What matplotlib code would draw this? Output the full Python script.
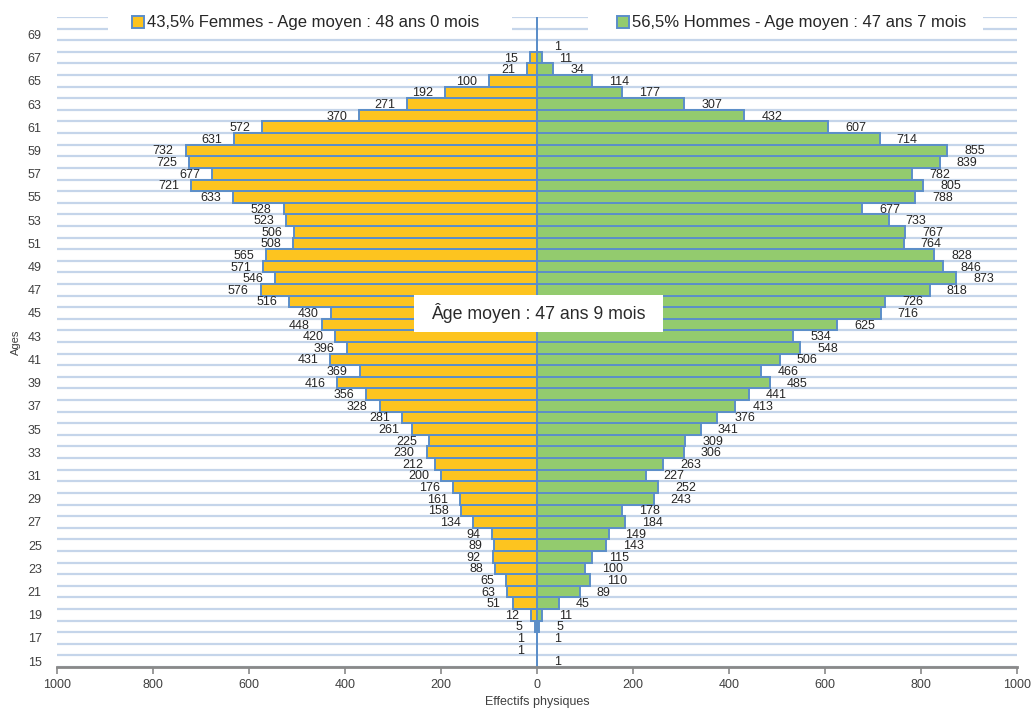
import matplotlib
matplotlib.use('Agg')
import matplotlib.pyplot as plt
from matplotlib.patches import Patch, Rectangle
from matplotlib.ticker import FuncFormatter

plt.rcParams['font.family'] = ['Liberation Sans', 'DejaVu Sans']

ages = list(range(15, 71))
femmes = [0, 1, 1, 5, 12, 51, 63, 65, 88, 92,
          89, 94, 134, 158, 161, 176, 200, 212, 230, 225,
          261, 281, 328, 356, 416, 369, 431, 396, 420, 448,
          430, 516, 576, 546, 571, 565, 508, 506, 523, 528,
          633, 721, 677, 725, 732, 631, 572, 370, 271, 192,
          100, 21, 15, 0, 0, 0]
hommes = [1, 0, 1, 5, 11, 45, 89, 110, 100, 115,
          143, 149, 184, 178, 243, 252, 227, 263, 306, 309,
          341, 376, 413, 441, 485, 466, 506, 548, 534, 625,
          716, 726, 818, 873, 846, 828, 764, 767, 733, 677,
          788, 805, 782, 839, 855, 714, 607, 432, 307, 177,
          114, 34, 11, 1, 0, 0]

label_f = '43,5% Femmes - Age moyen : 48 ans 0 mois'
label_h = '56,5% Hommes - Age moyen : 47 ans 7 mois'
note = 'Âge moyen : 47 ans 9 mois'

col_f = '#fdc41f'
col_h = '#93cb6e'
edge = '#5b8ec9'
grid = '#c5d5ea'
txt = '#404040'

W, H = 1031, 708
fig = plt.figure(figsize=(W / 100, H / 100), dpi=100)
ax = fig.add_axes([57 / W, 1 - 667 / H, 960 / W, 650 / H])

ax.barh(ages, [-v for v in femmes], height=1.0, color=col_f, edgecolor=edge, linewidth=1.4, zorder=3)
ax.barh(ages, hommes, height=1.0, color=col_h, edgecolor=edge, linewidth=1.4, zorder=3)

# data labels
for a, v in zip(ages, femmes):
    if v:
        ax.annotate(str(v), xy=(-v, a), xytext=(-12, -1), textcoords='offset pixels',
                    ha='right', va='center', fontsize=9, color='#262626', zorder=4)
for a, v in zip(ages, hommes):
    if v:
        ax.annotate(str(v), xy=(v, a), xytext=(17, -1), textcoords='offset pixels',
                    ha='left', va='center', fontsize=9, color='#262626', zorder=4)

ax.set_xlim(-1000, 1000)
ax.set_ylim(ages[0] - 0.5, ages[-1] + 0.5)

# horizontal grid at category boundaries
for b in range(ages[0], ages[-1] + 2):
    ax.axhline(b - 0.5, color=grid, linewidth=1.6, zorder=1)
ax.axvline(0, color='#aebbd0', linewidth=1.4, zorder=2)

ax.set_yticks(ages[::2])
ax.set_yticklabels([str(a) for a in ages[::2]])
ax.set_xticks(range(-1000, 1001, 200))
ax.xaxis.set_major_formatter(FuncFormatter(lambda x, p: str(abs(int(x)))))
ax.tick_params(axis='y', length=0, pad=11, labelsize=9, labelcolor=txt)
ax.tick_params(axis='x', length=5, width=1.2, color='#898989', pad=4, labelsize=9, labelcolor=txt)

for s in ['top', 'right', 'left']:
    ax.spines[s].set_visible(False)
ax.spines['bottom'].set_color('#898989')
ax.spines['bottom'].set_linewidth(2)
ax.spines['bottom'].set_zorder(5)

ax.set_xlabel('Effectifs physiques', fontsize=9, color=txt, labelpad=3)
ax.set_ylabel('Ages', fontsize=8, color=txt, labelpad=5)

# white backgrounds behind the two legend entries
for x0, x1 in [(108, 512), (588, 983)]:
    fig.add_artist(Rectangle((x0 / W, 1 - 36 / H), (x1 - x0) / W, 32 / H,
                             transform=fig.transFigure, facecolor='white', edgecolor='none', zorder=4))

leg_kw = dict(frameon=False, fontsize=12, handlelength=0.7, handleheight=0.7,
              handletextpad=0.2, borderpad=0, borderaxespad=0, loc='center')
h_f = Patch(facecolor=col_f, edgecolor=edge, linewidth=1.4)
h_h = Patch(facecolor=col_h, edgecolor=edge, linewidth=1.4)
l1 = fig.legend([h_f], [label_f], bbox_to_anchor=(306 / W, 1 - 23 / H), **leg_kw)
l2 = fig.legend([h_h], [label_h], bbox_to_anchor=(792 / W, 1 - 23 / H), **leg_kw)
for l in (l1, l2):
    l.set_zorder(6)
    for t in l.get_texts():
        t.set_color('#262626')

# mean age box
ax.add_patch(Rectangle((0.372, 0.516), 0.259, 0.057, transform=ax.transAxes,
                       facecolor='white', edgecolor='none', zorder=6))
ax.text(0.501, 0.5445, note, transform=ax.transAxes, ha='center', va='center',
        fontsize=12.8, color='#2a2a2a', zorder=7)

fig.savefig('out.png', dpi=100)
